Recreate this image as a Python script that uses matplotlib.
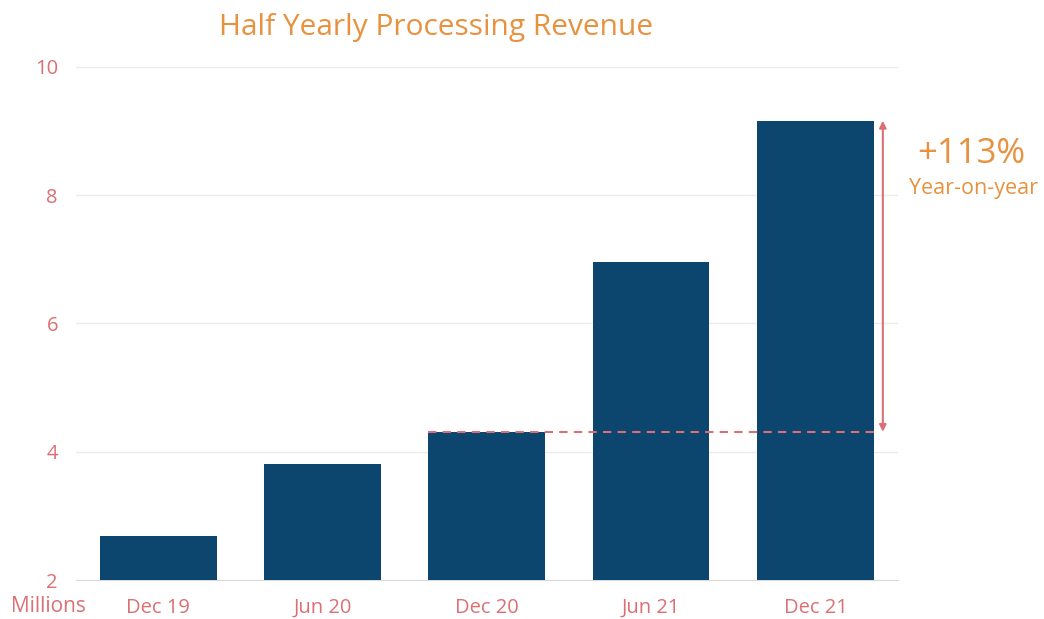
import numpy as np
import matplotlib.pyplot as plt

# Data (millions)
periods = ['Dec 19', 'Jun 20', 'Dec 20', 'Jun 21', 'Dec 21']
revenue = [2.69, 3.81, 4.31, 6.96, 9.16]
growth_label = '+113%'

bar_color = '#0c466e'
accent = '#dc6f74'
orange = '#e8913f'

plt.rcParams['font.family'] = ['Open Sans', 'DejaVu Sans']

fig = plt.figure(figsize=(10.44, 6.19), dpi=100)
ax = fig.add_axes([0.0728, 0.063, 0.787, 0.829])

x = np.arange(len(periods))
ax.bar(x, revenue, width=0.71, color=bar_color, zorder=3)

ax.set_xlim(-0.5, len(periods) - 0.5)
ax.set_ylim(2, 10)
ax.set_yticks([2, 4, 6, 8, 10])
ax.set_xticks(x)
ax.set_xticklabels(periods)

ax.grid(axis='y', color='#ebebeb', linewidth=1, zorder=0)
for s in ['top', 'right', 'left']:
    ax.spines[s].set_visible(False)
ax.spines['bottom'].set_color('#d9d9d9')
ax.tick_params(axis='both', length=0, colors=accent, labelsize=14.5)
ax.tick_params(axis='y', pad=13)
ax.tick_params(axis='x', pad=13)

# comparison of Dec 20 vs Dec 21
base = revenue[2]
top = revenue[4]
ax.plot([2 - 0.355, 4 + 0.355], [base, base], color=accent, linestyle=(0, (4, 3)),
        linewidth=1.5, zorder=4)
ax.annotate('', xy=(4.41, top), xytext=(4.41, base),
            arrowprops=dict(arrowstyle='<|-|>', color=accent, lw=1.5,
                            mutation_scale=10, shrinkA=0, shrinkB=0),
            annotation_clip=False)

fig.text(0.930, 0.752, growth_label, color=orange, fontsize=25, ha='center', va='center')
fig.text(0.932, 0.696, 'Year-on-year', color=orange, fontsize=15.5, ha='center', va='center')

fig.text(0.418, 0.955, 'Half Yearly Processing Revenue', color=orange, fontsize=21.5,
         ha='center', va='center')
fig.text(0.046, 0.004, 'Millions', color=accent, fontsize=15, ha='center', va='bottom')

fig.savefig('out.png', dpi=100, facecolor='white')
